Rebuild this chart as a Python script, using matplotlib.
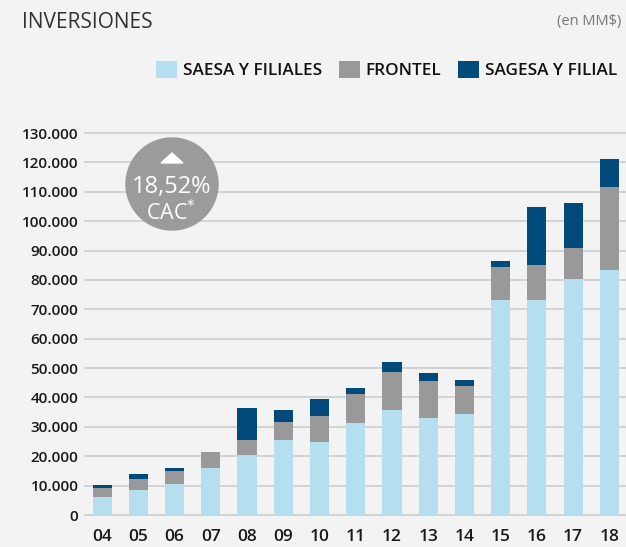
import matplotlib.pyplot as plt
from matplotlib.patches import Ellipse, Polygon

plt.rcParams['font.family'] = ['Open Sans', 'DejaVu Sans']

years = ["04", "05", "06", "07", "08", "09", "10", "11", "12", "13", "14", "15", "16", "17", "18"]
saesa = [6200, 8500, 10600, 16000, 20400, 25500, 24800, 31300, 35700, 33000, 34400, 73200, 73200, 80300, 83400]
frontel = [3100, 3800, 4400, 5400, 5100, 6200, 8900, 9900, 13000, 12600, 9500, 11200, 11900, 10600, 28200]
sagesa = [900, 1700, 1000, 0, 10900, 4000, 5800, 2000, 3400, 2700, 2100, 2100, 19700, 15300, 9600]
yticks = list(range(0, 130001, 10000))

c_light = "#b5dfee"
c_gray = "#999999"
c_dark = "#004b7c"
bg = "#f3f3f3"

W, H = 626, 547
fig = plt.figure(figsize=(W / 100, H / 100), dpi=100, facecolor=bg)
ax = fig.add_axes([84 / W, 30.5 / H, 1 - 84 / W, (516.5 - 130.1) / H])
ax.set_facecolor(bg)

x = list(range(len(years)))
bottom2 = [a + b for a, b in zip(saesa, frontel)]
ax.bar(x, saesa, width=0.53, color=c_light, zorder=3, label="SAESA Y FILIALES")
ax.bar(x, frontel, width=0.53, bottom=saesa, color=c_gray, zorder=3, label="FRONTEL")
ax.bar(x, sagesa, width=0.53, bottom=bottom2, color=c_dark, zorder=3, label="SAGESA Y FILIAL")

ax.set_xlim(-0.5, 14.46)
ax.set_ylim(-500, 131000)
ax.set_yticks(yticks)
ax.set_yticklabels([f"{v:,}".replace(",", ".") for v in yticks], fontsize=11,
                   color="#1a1a1a", fontweight="semibold")
ax.set_xticks(x)
ax.set_xticklabels(years, fontsize=12.5, color="#1a1a1a", fontweight="semibold")
ax.tick_params(axis="both", length=0)
ax.tick_params(axis="x", pad=9)
ax.tick_params(axis="y", pad=4)
ax.grid(axis="y", color="#cacaca", linewidth=1.1, zorder=0)
for s in ax.spines.values():
    s.set_visible(False)

# titulo
fig.text(22 / W, 1 - 22 / H, "INVERSIONES", fontsize=15, color="#333333", va="center", ha="left")
fig.text(621 / W, 1 - 22 / H, "(en MM$)", fontsize=10.5, color="#777777", va="center", ha="right")

fig.legend(loc="center right", bbox_to_anchor=(1.01, 1 - 70 / H), ncol=3, frameon=False,
           handlelength=1.2, handleheight=1.2, columnspacing=1.0, handletextpad=0.35,
           prop={"size": 12.3, "weight": "semibold"}, labelcolor="#111111")

# circulo CAC
cx, cy, r = 172, 184, 46
fig.add_artist(Ellipse((cx / W, 1 - cy / H), 2 * r / W, 2 * r / H, transform=fig.transFigure,
                       color="#9b9b9b", zorder=5))
fig.add_artist(Polygon([((cx - 11) / W, 1 - 163 / H), ((cx + 11) / W, 1 - 163 / H), (cx / W, 1 - 153 / H)],
                       closed=True, transform=fig.transFigure, color="white", zorder=6))
fig.text(cx / W, 1 - 187 / H, "18,52%", fontsize=17, color="white", ha="center", va="center", zorder=7)
fig.text((cx - 1) / W, 1 - 213 / H, "CAC$^{*}$", fontsize=15.5, color="white", ha="center", va="center", zorder=7)

fig.savefig("out.png", dpi=100, facecolor=bg)
